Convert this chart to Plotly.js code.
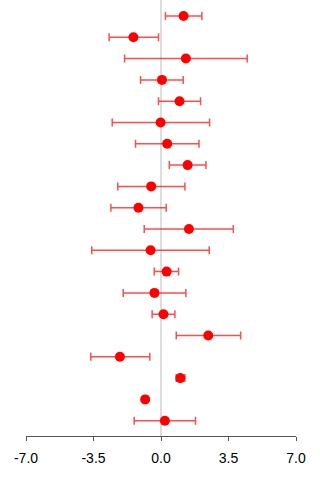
<!DOCTYPE html>
<html>
<head>
<meta charset="utf-8">
<script src="https://cdn.plot.ly/plotly-3.0.1.min.js"></script>
<style>
  html, body { margin: 0; padding: 0; background: #fff; }
  #chart { width: 320px; height: 480px; }
</style>
</head>
<body>
<div id="chart"></div>
<script>
// Study rows, listed top to bottom
const rows = [1, 2, 3, 4, 5, 6, 7, 8, 9, 10, 11, 12, 13, 14, 15, 16, 17, 18, 19, 20];

// Point estimates and interval bounds for each row
const estimate = [1.17, -1.43, 1.29, 0.05, 0.96, -0.02, 0.32, 1.38, -0.51, -1.17,
                  1.45, -0.54, 0.29, -0.34, 0.13, 2.45, -2.13, 1.00, -0.82, 0.20];
const lower    = [0.23, -2.69, -1.89, -1.06, -0.13, -2.53, -1.32, 0.43, -2.24, -2.60,
                  -0.87, -3.59, -0.35, -1.96, -0.46, 0.79, -3.64, 0.79, -0.94, -1.39];
const upper    = [2.12, -0.13, 4.47, 1.15, 2.05, 2.52, 1.97, 2.33, 1.24, 0.27,
                  3.75, 2.50, 0.91, 1.29, 0.72, 4.13, -0.58, 1.24, -0.70, 1.79];

// Axis ticks
const tickValues = [-7, -3.5, 0, 3.5, 7];
const tickLabels = ["-7.0", "-3.5", "0.0", "3.5", "7.0"];

const n = rows.length;
const yPos = rows.map(r => n + 1 - r);

const trace = {
  type: 'scatter',
  mode: 'markers',
  x: estimate,
  y: yPos,
  marker: { color: '#ff0000', size: 10, line: { width: 0 } },
  error_x: {
    type: 'data',
    symmetric: false,
    array: upper.map((u, i) => u - estimate[i]),
    arrayminus: estimate.map((e, i) => e - lower[i]),
    color: 'rgba(255,0,0,0.7)',
    thickness: 1.5,
    width: 4
  },
  hoverinfo: 'x',
  showlegend: false,
  cliponaxis: false
};

const layout = {
  width: 320,
  height: 480,
  margin: { l: 26, r: 24, t: 0, b: 44 },
  paper_bgcolor: '#ffffff',
  plot_bgcolor: '#ffffff',
  font: { family: 'Liberation Sans, Arial, sans-serif', size: 14, color: '#000' },
  xaxis: {
    range: [-7, 7],
    tickvals: tickValues,
    ticktext: tickLabels,
    showgrid: false,
    zeroline: true,
    zerolinecolor: '#dddddd',
    zerolinewidth: 2,
    showline: true,
    linecolor: '#555555',
    linewidth: 1,
    ticks: 'outside',
    ticklen: 4,
    tickcolor: '#555555',
    ticklabelstandoff: 5,
    tickfont: { size: 14, color: '#000' },
    fixedrange: true
  },
  yaxis: {
    range: [0.282, 20.75],
    visible: false,
    fixedrange: true
  }
};

Plotly.newPlot('chart', [trace], layout, { staticPlot: true, displayModeBar: false });
</script>
</body>
</html>
